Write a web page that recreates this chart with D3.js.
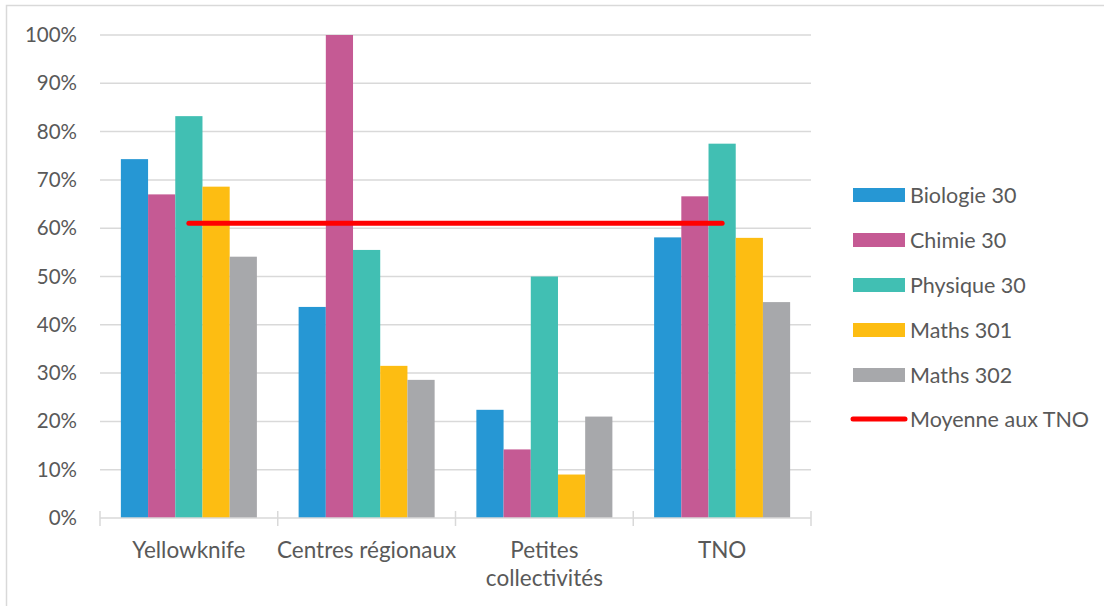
<!DOCTYPE html>
<html>
<head>
<meta charset="utf-8">
<script src="https://cdn.jsdelivr.net/npm/d3@7"></script>
<style>
  html, body { margin: 0; padding: 0; background: #fff; }
  svg { display: block; }
  text { font-family: Lato, "Open Sans", sans-serif; fill: #595959; }
</style>
</head>
<body>
<svg id="chart" width="1104" height="606"></svg>
<script>
const categories = ["Yellowknife", "Centres régionaux", "Petites collectivités", "TNO"];
const seriesNames = ["Biologie 30", "Chimie 30", "Physique 30", "Maths 301", "Maths 302"];
const seriesColors = ["#2697d4", "#c55a94", "#41bfb3", "#fdbd12", "#a7a8ab"];
const biologie30 = [0.743, 0.437, 0.224, 0.581];
const chimie30   = [0.670, 1.000, 0.142, 0.666];
const physique30 = [0.832, 0.555, 0.500, 0.775];
const maths301   = [0.686, 0.315, 0.090, 0.580];
const maths302   = [0.541, 0.286, 0.210, 0.447];
const moyenneTNO = [0.61, 0.61, 0.61, 0.61];
const averageName = "Moyenne aux TNO";
const averageColor = "#ff0000";
const yTicks = [0, 0.1, 0.2, 0.3, 0.4, 0.5, 0.6, 0.7, 0.8, 0.9, 1.0];

const seriesValues = [biologie30, chimie30, physique30, maths301, maths302];

const svg = d3.select("#chart");
const plotLeft = 100, plotRight = 811, plotTop = 35, plotBottom = 518;

// outer border (left and top only visible)
svg.append("path")
  .attr("d", "M6.5,606 L6.5,5.5 L1104,5.5")
  .attr("fill", "none").attr("stroke", "#d9d9d9").attr("stroke-width", 1.5);

const x0 = d3.scaleBand().domain(categories).range([plotLeft, plotRight]).paddingInner(0).paddingOuter(0);
const x1 = d3.scaleBand().domain(seriesNames).range([0, x0.bandwidth()]).paddingOuter(0.767).paddingInner(0);
const y = d3.scaleLinear().domain([0, 1]).range([plotBottom, plotTop]);

// gridlines
svg.append("g").selectAll("line").data(yTicks.filter(d => d > 0)).join("line")
  .attr("x1", plotLeft).attr("x2", plotRight)
  .attr("y1", d => y(d)).attr("y2", d => y(d))
  .attr("stroke", "#d9d9d9").attr("stroke-width", 1.5);

// y axis labels
const yAxis = d3.axisLeft(y).tickValues(yTicks).tickFormat(d3.format(".0%")).tickSize(0).tickPadding(23);
const gy = svg.append("g").attr("transform", `translate(${plotLeft},0)`).call(yAxis);
gy.select(".domain").remove();
gy.selectAll("text").style("font-size", "20.5px").attr("fill", "#595959").style("font-family", "Lato, sans-serif");

// bars
const groups = svg.append("g").selectAll("g").data(categories).join("g")
  .attr("transform", d => `translate(${x0(d)},0)`);
groups.selectAll("rect")
  .data((c, ci) => seriesNames.map((s, si) => ({ s, si, v: seriesValues[si][ci] })))
  .join("rect")
  .attr("x", d => x1(d.s))
  .attr("width", x1.bandwidth())
  .attr("y", d => y(d.v))
  .attr("height", d => plotBottom - y(d.v))
  .attr("fill", d => seriesColors[d.si]);

// x axis
svg.append("line").attr("x1", plotLeft).attr("x2", plotRight).attr("y1", plotBottom).attr("y2", plotBottom)
  .attr("stroke", "#d9d9d9").attr("stroke-width", 1.5);
const boundaries = categories.map(c => x0(c)).concat([plotRight]);
svg.append("g").selectAll("line").data(boundaries).join("line")
  .attr("x1", d => d).attr("x2", d => d).attr("y1", plotBottom - 7).attr("y2", plotBottom + 8)
  .attr("stroke", "#d9d9d9").attr("stroke-width", 1.5);

// category labels
const labelLines = { "Petites collectivités": ["Petites", "collectivités"] };
categories.forEach(c => {
  const lines = labelLines[c] || [c];
  const cx = x0(c) + x0.bandwidth() / 2;
  const t = svg.append("text").attr("text-anchor", "middle")
    .attr("x", cx).attr("y", 558)
    .style("font-size", "22.5px");
  lines.forEach((l, i) => t.append("tspan").attr("x", cx).attr("dy", i === 0 ? 0 : 28).text(l));
});

// average line
const line = d3.line().x((d, i) => x0(categories[i]) + x0.bandwidth() / 2).y(d => y(d));
svg.append("path").datum(moyenneTNO).attr("d", line)
  .attr("fill", "none").attr("stroke", averageColor).attr("stroke-width", 5).attr("stroke-linecap", "round");

// legend
const legendX = 853, legendY0 = 195, legendStep = 45;
seriesNames.forEach((s, i) => {
  const yy = legendY0 + i * legendStep;
  svg.append("rect").attr("x", legendX).attr("y", yy - 7).attr("width", 52).attr("height", 14).attr("fill", seriesColors[i]);
  svg.append("text").attr("x", legendX + 57).attr("y", yy).attr("dy", "0.35em").style("font-size", "21.5px").text(s);
});
{
  const yy = legendY0 + seriesNames.length * legendStep - 1;
  svg.append("line").attr("x1", legendX).attr("x2", legendX + 52).attr("y1", yy).attr("y2", yy)
    .attr("stroke", averageColor).attr("stroke-width", 5).attr("stroke-linecap", "round");
  svg.append("text").attr("x", legendX + 57).attr("y", yy).attr("dy", "0.35em").style("font-size", "21.5px").text(averageName);
}
</script>
</body>
</html>
